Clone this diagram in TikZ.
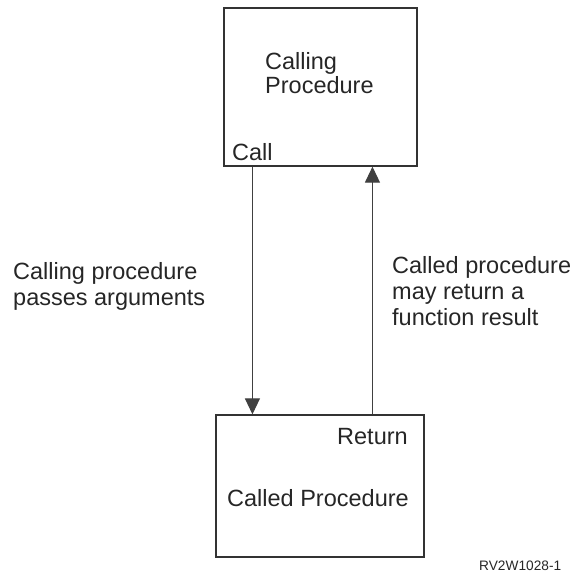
\documentclass[tikz,border=0pt]{standalone}
\usepackage{fontspec}
\setmainfont{Liberation Sans}
\usetikzlibrary{arrows.meta,positioning}

\tikzset{
  procbox/.style={draw=black!80,line width=1.3pt,inner sep=0pt},
  lbl/.style={inner sep=0pt,anchor=north west,align=left,text=black!85,
    font=\fontsize{23.5}{26}\selectfont},
  arr/.style={draw=black!75,line width=1.1pt,-{Triangle[length=16pt,width=15pt]}}
}

\begin{document}
\begin{tikzpicture}[x=1pt,y=-1pt]
  \useasboundingbox (0,0) rectangle (579,582);
  % the two procedures
  \node[procbox,minimum width=193pt,minimum height=158pt] (calling) at (320.5,87) {};
  \node[procbox,minimum width=208pt,minimum height=142pt] (called) at (320,486) {};

  \node[lbl,font=\fontsize{23.5}{24}\selectfont] (callingtxt) at (265,52) {Calling\\Procedure};
  \node[lbl] (call) at (232,143) {Call};
  \node[lbl] (ret) at (337,428) {Return};
  \node[lbl] (calledtxt) at (227,489) {Called Procedure};

  % arguments and result
  \draw[arr] (call.south |- calling.south) -- (call.south |- called.north);
  \draw[arr] (ret.north |- called.north) -- (ret.north |- calling.south);

  \node[lbl] (passtxt) at (13,262) {Calling procedure\\passes arguments};
  \node[lbl] (restxt) at (392,256) {Called procedure\\may return a\\function result};

  \node[lbl,font=\fontsize{13.7}{15}\selectfont] (figid) at (479,561) {RV2W1028-1};
\end{tikzpicture}
\end{document}
